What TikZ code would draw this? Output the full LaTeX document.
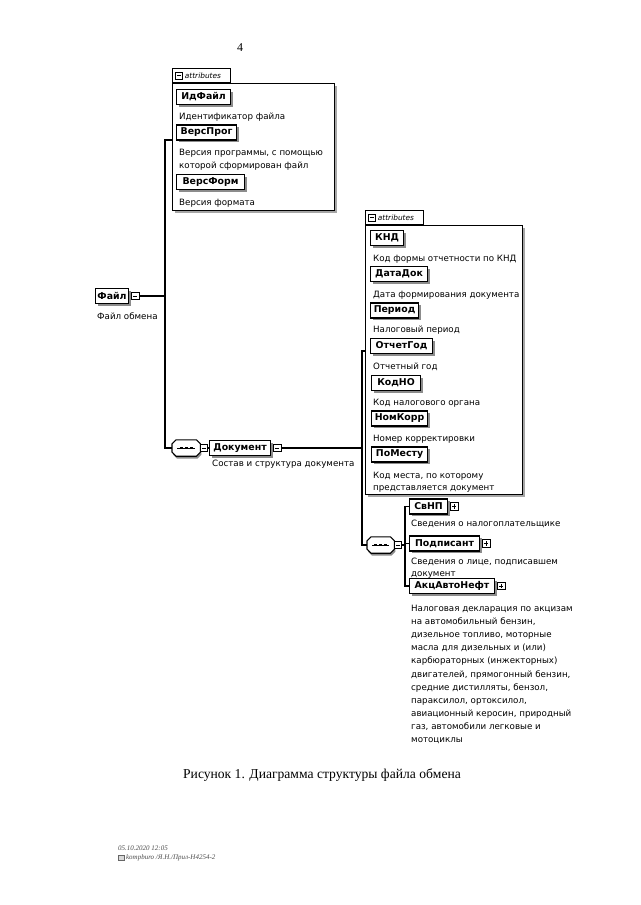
\documentclass[tikz,border=0pt]{standalone}
\usepackage{fontspec}
\setmainfont{Liberation Serif}
\newfontfamily\dg{DejaVu Sans}
\usetikzlibrary{shadows,positioning}
\newcommand\seqsym[1]{%
  \fill[black!45] ([xshift=5pt,yshift=-2.5pt]#1.north west) -- ([xshift=-3pt,yshift=-2.5pt]#1.north east) -- ([xshift=1pt,yshift=-6.5pt]#1.north east) -- ([xshift=1pt,yshift=1.5pt]#1.south east) -- ([xshift=-3pt,yshift=-2.5pt]#1.south east) -- ([xshift=5pt,yshift=-2.5pt]#1.south west) -- ([xshift=1pt,yshift=1.5pt]#1.south west) -- cycle;
  \filldraw[fill=white,line width=1.1pt] ([xshift=4pt]#1.north west) -- ([xshift=-4pt]#1.north east) -- ([yshift=-4pt]#1.north east) -- ([yshift=4pt]#1.south east) -- ([xshift=-4pt]#1.south east) -- ([xshift=4pt]#1.south west) -- ([yshift=4pt]#1.south west) -- ([yshift=-4pt]#1.north west) -- cycle;
  \draw[line width=0.8pt] ([xshift=5pt]#1.west) -- ([xshift=-5pt]#1.east);
  \foreach \d in {-5,0,5} {\fill ([xshift=\d pt]#1.center) +(-1.4,-1.4) rectangle +(1.4,1.4);}
}
\tikzset{
  elem/.style={draw, line width=1.1pt, fill=white, anchor=west, minimum height=15pt, inner sep=0pt,
    font=\dg\bfseries\fontsize{9.4}{10}\selectfont,
    general shadow={fill=black!45, shadow xshift=2pt, shadow yshift=-2pt}},
  desc/.style={anchor=north west, inner sep=0pt, align=left, font=\dg\fontsize{8.7}{12.8}\selectfont},
  pmbase/.style={draw, fill=white, line width=0.7pt, minimum size=7.5pt, inner sep=0pt, anchor=west},
  minusbox/.style={pmbase, path picture={\draw[line width=0.7pt] ([xshift=1.5pt]path picture bounding box.west) -- ([xshift=-1.5pt]path picture bounding box.east);}},
  plusbox/.style={pmbase, path picture={\draw[line width=0.7pt] ([xshift=1.5pt]path picture bounding box.west) -- ([xshift=-1.5pt]path picture bounding box.east) ([yshift=-1.5pt]path picture bounding box.north) -- ([yshift=1.5pt]path picture bounding box.south);}},
  attrbox/.style={draw, line width=1.1pt, fill=white, anchor=north west, inner sep=0pt,
    general shadow={fill=black!35, shadow xshift=2pt, shadow yshift=-2pt}},
  attrtab/.style={draw, line width=1.1pt, fill=white, anchor=south west, inner sep=0pt, minimum width=58pt, minimum height=14pt},
  tabtext/.style={anchor=west, inner sep=0pt, font=\dg\itshape\fontsize{7.4}{8}\selectfont},
  seqbase/.style={minimum width=28pt, minimum height=16pt, inner sep=0pt, anchor=west},
  conn/.style={line width=1.1pt},
}
\begin{document}
\begin{tikzpicture}[x=1pt,y=-1pt]
\useasboundingbox (0,0) rectangle (640,905);
\fill[white] (0,0) rectangle (640,905);

\node[font=\fontsize{12}{14}\selectfont, inner sep=0pt] (pg) at (240,48) {4};

% ---- attributes box 1
\node[attrbox, minimum width=162pt, minimum height=127pt] (attr1) at (172,83) {};
\node[attrtab] (tab1) at (172,83) {};
\node[minusbox, minimum size=7pt] (tab1m) at ([xshift=3pt]tab1.west) {};
\node[tabtext, right=2pt of tab1m] (tab1t) {attributes};

\node[elem, minimum width=54pt] (idf) at (176,97) {ИдФайл};
\node[desc] (idfd) at (179,113) {Идентификатор файла};
\node[elem, minimum width=60pt] (vprog) at (176,132.5) {ВерсПрог};
\node[desc] (vprogd) at (179,149) {Версия программы, с помощью\\которой сформирован файл};
\node[elem, minimum width=68pt] (vform) at (176,182) {ВерсФорм};
\node[desc] (vformd) at (179,199) {Версия формата};

% ---- root
\node[elem, minimum width=33pt] (file) at (95,296) {Файл};
\node[minusbox, right=2pt of file] (fileM) {};
\node[desc] (filed) at (97,313) {Файл обмена};

% ---- sequence 1 and Документ
\node[seqbase] (c1) at (172,448) {};
\seqsym{c1}
\node[minusbox] (c1m) at ([xshift=-0.5pt]c1.east) {};
\node[elem, minimum width=61pt] (doc) at (209,448) {Документ};
\node[minusbox, right=2pt of doc] (docM) {};
\node[desc] (docd) at (212,460) {Состав и структура документа};

% ---- attributes box 2
\node[attrbox, minimum width=157pt, minimum height=269pt] (attr2) at (365,225) {};
\node[attrtab] (tab2) at (365,225) {};
\node[minusbox, minimum size=7pt] (tab2m) at ([xshift=3pt]tab2.west) {};
\node[tabtext, right=2pt of tab2m] (tab2t) {attributes};

\node[elem, minimum width=33pt] (knd) at (370,238) {КНД};
\node[desc] (kndd) at (373,254.5) {Код формы отчетности по КНД};
\node[elem, minimum width=57pt] (datadok) at (370,274) {ДатаДок};
\node[desc] (datadokd) at (373,291) {Дата формирования документа};
\node[elem, minimum width=48pt] (period) at (370,310.5) {Период};
\node[desc] (periodd) at (373,326) {Налоговый период};
\node[elem, minimum width=62pt] (otchgod) at (370,346) {ОтчетГод};
\node[desc] (otchgodd) at (373,363) {Отчетный год};
\node[elem, minimum width=49pt] (kodno) at (371,383) {КодНО};
\node[desc] (kodnod) at (373,399) {Код налогового органа};
\node[elem, minimum width=56pt] (nomkorr) at (371,418.5) {НомКорр};
\node[desc] (nomkorrd) at (373,434.5) {Номер корректировки};
\node[elem, minimum width=56pt] (pomestu) at (371,454.5) {ПоМесту};
\node[desc] (pomestud) at (373,471.5) {Код места, по которому\\представляется документ};

% ---- sequence 2 and children
\node[seqbase, minimum width=27pt] (c2) at (367,545) {};
\seqsym{c2}
\node[minusbox] (c2m) at ([xshift=-0.5pt]c2.east) {};
\node[elem, minimum width=38pt] (svnp) at (409,506.5) {СвНП};
\node[plusbox, right=2pt of svnp] (svnpP) {};
\node[desc] (svnpd) at (411,520) {Сведения о налогоплательщике};
\node[elem, minimum width=70pt] (podp) at (409,543.5) {Подписант};
\node[plusbox, right=2pt of podp] (podpP) {};
\node[desc] (podpd) at (411,557.5) {Сведения о лице, подписавшем\\документ};
\node[elem, minimum width=85pt] (akc) at (409,586) {АкцАвтоНефт};
\node[plusbox, right=2pt of akc] (akcP) {};
\node[desc, font=\dg\fontsize{8.7}{13.1}\selectfont] (akcd) at (411,605) {Налоговая декларация по акцизам\\на автомобильный бензин,\\дизельное топливо, моторные\\масла для дизельных и (или)\\карбюраторных (инжекторных)\\двигателей, прямогонный бензин,\\средние дистилляты, бензол,\\параксилол, ортоксилол,\\авиационный керосин, природный\\газ, автомобили легковые и\\мотоциклы};

% ---- connectors
\coordinate (v1t) at (165,140);
\coordinate (v2t) at (362,351);
\coordinate (v3) at (405,545);
\draw[conn] (fileM.east) -- (fileM.east -| v1t);
\draw[conn] (v1t -| attr1.west) -- (v1t) -- (v1t |- c1.west) -- (c1.west);
\draw[conn] (c1m.east) -- (doc.west);
\draw[conn] (docM.east) -- (docM.east -| v2t);
\draw[conn] (v2t -| attr2.west) -- (v2t) -- (v2t |- c2.west) -- (c2.west);
\draw[conn] (c2m.east) -- (v3);
\draw[conn] (svnp.west) -- (svnp.west -| v3) -- (akc.west -| v3) -- (akc.west);
\draw[conn] (podp.west -| v3) -- (podp.west);

% ---- caption and footer
\node[font=\fontsize{13.6}{16}\selectfont, inner sep=0pt] (cap) at (322,775) {Рисунок 1. Диаграмма структуры файла обмена};
\node[anchor=west, inner sep=0pt, text=black!70, font=\itshape\fontsize{7}{8}\selectfont] (f1) at (118,848) {05.10.2020 12:05};
\node[anchor=west, draw=black!60, fill=black!15, line width=0.4pt, minimum width=6pt, minimum height=5pt, inner sep=0pt] (ficon) at (118,858) {};
\node[anchor=west, inner sep=0pt, text=black!70, font=\itshape\fontsize{7}{8}\selectfont, right=1.5pt of ficon] (f2) {kompburo /Я.Н./Прил-Н4254-2};
\end{tikzpicture}
\end{document}
